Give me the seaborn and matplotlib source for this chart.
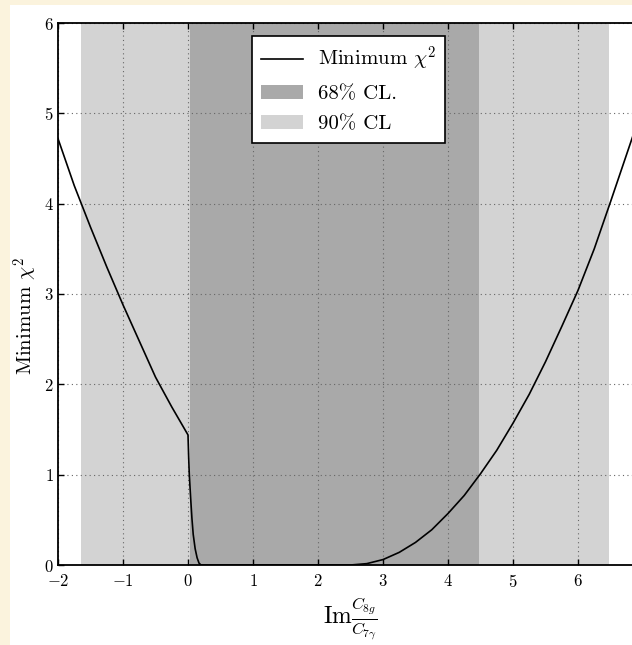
import numpy as np
import pandas as pd
import matplotlib
matplotlib.use("Agg")
import matplotlib.pyplot as plt
from matplotlib.patches import Rectangle
import seaborn as sns

# ---- data ----
x_left = [-2.0, -1.75, -1.5, -1.25, -1.0, -0.75, -0.5, -0.25, 0.0]
y_left = [4.72, 4.20, 3.74, 3.30, 2.88, 2.48, 2.08, 1.75, 1.44]
x_drop = [0.01, 0.02, 0.04, 0.06, 0.08, 0.11, 0.14, 0.17, 0.20]
y_drop = [1.20, 1.00, 0.75, 0.52, 0.34, 0.18, 0.08, 0.02, 0.0]
x_flat = [0.5, 1.0, 1.5, 2.0, 2.5]
y_flat = [0.0, 0.0, 0.0, 0.0, 0.0]
x_right = [2.75, 3.0, 3.25, 3.5, 3.75, 4.0, 4.25, 4.5, 4.75, 5.0,
           5.25, 5.5, 5.75, 6.0, 6.25, 6.5, 6.75, 7.0]
y_right = [0.015, 0.06, 0.14, 0.25, 0.39, 0.57, 0.77, 1.01, 1.27, 1.57,
           1.89, 2.25, 2.64, 3.04, 3.50, 4.02, 4.55, 5.08]

cl68 = (0.035, 4.47)
cl90 = (-1.65, 6.48)

labels = ["Minimum $\\chi^2$", "68% CL.", "90% CL"]
xticks = [-2, -1, 0, 1, 2, 3, 4, 5, 6]
yticks = [0, 1, 2, 3, 4, 5, 6]

df = pd.DataFrame({
    "x": x_left + x_drop + x_flat + x_right,
    "chi2": y_left + y_drop + y_flat + y_right,
})

# ---- style ----
plt.rcParams["font.family"] = ["cmr10", "DejaVu Serif"]
plt.rcParams["mathtext.fontset"] = "cm"
plt.rcParams["axes.formatter.use_mathtext"] = True
plt.rcParams["axes.unicode_minus"] = True

W, H = 632, 645
fig = plt.figure(figsize=(W / 100, H / 100), dpi=100)
fig.patch.set_facecolor("#fbf3dd")
fig.add_artist(Rectangle((10 / W, 0), 1, 1 - 5 / H, transform=fig.transFigure,
                         facecolor="white", edgecolor="none", zorder=0))

ax = fig.add_axes([58 / W, 1 - 565 / H, 585 / W, 542 / H])

ax.axvspan(*cl90, color="#d3d3d3", lw=0, zorder=1, label=labels[2])
ax.axvspan(*cl68, color="#a9a9a9", lw=0, zorder=1, label=labels[1])

sns.lineplot(data=df, x="x", y="chi2", ax=ax, color="black", lw=1.2,
             sort=False, estimator=None, zorder=3, label=labels[0])

ax.set_xlim(-2, 7)
ax.set_ylim(0, 6)
ax.set_xticks(xticks)
ax.set_yticks(yticks)
ax.grid(True, color="#666666", linestyle=(0, (1, 3)), linewidth=0.8, zorder=2)
ax.axvline(7, color="#666666", linestyle=(0, (1, 3)), linewidth=0.8, zorder=2)
ax.set_axisbelow(False)
ax.tick_params(direction="in", top=True, right=True, length=4, width=1,
               labelsize=12)
ax.tick_params(axis="x", pad=6)
ax.tick_params(axis="y", pad=3)
for s in ax.spines.values():
    s.set_linewidth(1.3)
    s.set_zorder(4)

ax.set_xlabel(r"$\mathrm{Im}\frac{C_{8g}}{C_{7\gamma}}$", fontsize=17, labelpad=4)
ax.set_ylabel(r"Minimum $\chi^2$", fontsize=15)
ax.yaxis.set_label_coords(-0.03, 0.46)

h, l = ax.get_legend_handles_labels()
order = [l.index(t) for t in labels]
leg = ax.legend([h[i] for i in order], [l[i] for i in order], loc="upper center",
                bbox_to_anchor=(0.497, 0.996), fontsize=15, frameon=True,
                fancybox=False, framealpha=1, edgecolor="black",
                handlelength=2.0, handletextpad=0.7, borderpad=0.45,
                labelspacing=0.55)
leg.get_frame().set_linewidth(1.2)
leg.set_zorder(5)

fig.savefig("out.png", dpi=100, facecolor=fig.get_facecolor())
